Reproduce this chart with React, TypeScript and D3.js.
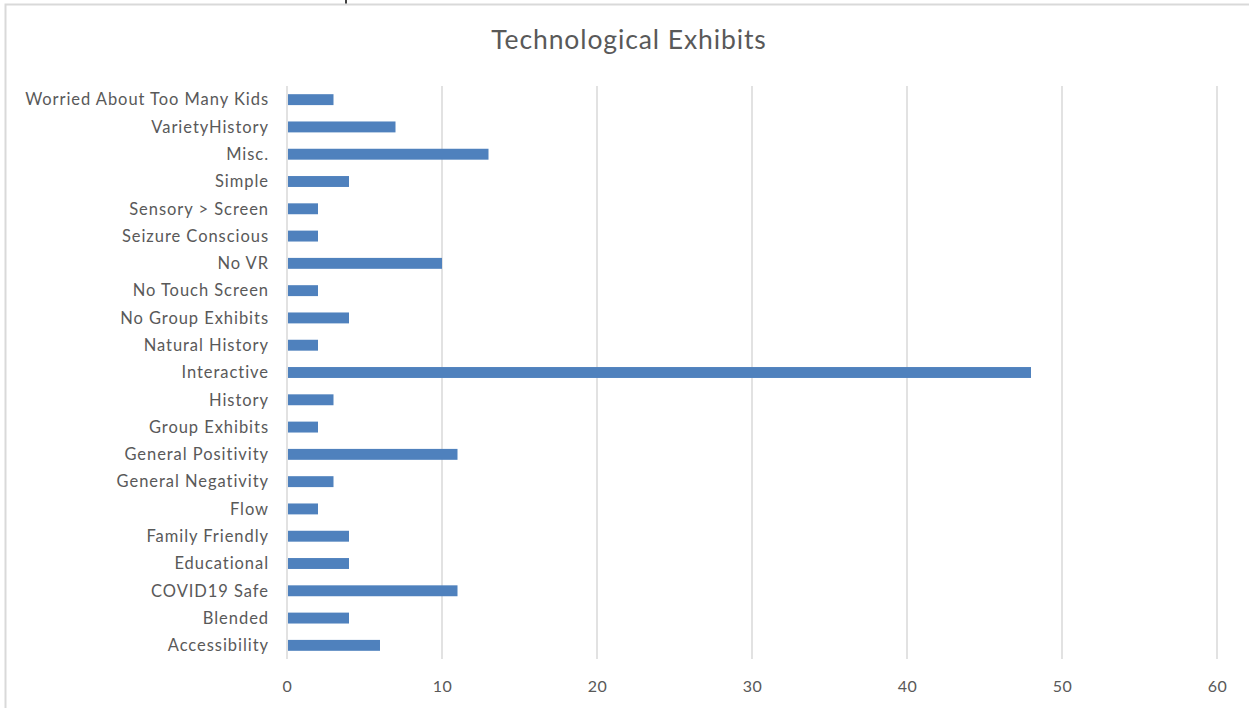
import React from "react";
import * as d3 from "d3";

const title = "Technological Exhibits";
const categories = [
  "Worried About Too Many Kids",
  "VarietyHistory",
  "Misc.",
  "Simple",
  "Sensory > Screen",
  "Seizure Conscious",
  "No VR",
  "No Touch Screen",
  "No Group Exhibits",
  "Natural History",
  "Interactive",
  "History",
  "Group Exhibits",
  "General Positivity",
  "General Negativity",
  "Flow",
  "Family Friendly",
  "Educational",
  "COVID19 Safe",
  "Blended",
  "Accessibility",
];
const values = [3, 7, 13, 4, 2, 2, 10, 2, 4, 2, 48, 3, 2, 11, 3, 2, 4, 4, 11, 4, 6];
const xTicks = [0, 10, 20, 30, 40, 50, 60];

const W = 1249;
const H = 708;
const FONT = "Lato, 'Open Sans', sans-serif";
const TEXT = "#595959";
const GRID = "#d9d9d9";
const BAR = "#4f81bd";

export default function App() {
  const x = d3.scaleLinear().domain([0, 60]).range([287, 1217]);
  const y = d3.scaleBand<string>().domain(categories).range([86, 659]).paddingInner(0.6).paddingOuter(0.3);
  const [y0, y1] = y.range();

  return (
    <svg
      width={W}
      height={H}
      style={{ position: "absolute", left: 0, top: 0, background: "#fff" }}
      fontFamily={FONT}
    >
      <line x1={346} x2={346} y1={0} y2={4} stroke="#111" strokeWidth={1.6} />
      <rect x={5.5} y={4.5} width={W + 20} height={H + 20} fill="none" stroke={GRID} strokeWidth={2} />
      <text x={629} y={49} textAnchor="middle" fontSize={26.5} letterSpacing={0.9} fill={TEXT}>{title}</text>
      {xTicks.map((t) => (
        <g key={t}>
          <line x1={x(t)} x2={x(t)} y1={y0} y2={y1} stroke={GRID} strokeWidth={1.5} />
          <text x={x(t) + 0.5} y={692} textAnchor="middle" fontSize={16} letterSpacing={0.5} fill={TEXT}>{t}</text>
        </g>
      ))}
      {categories.map((c, i) => (
        <g key={c}>
          <rect x={x(0) + 1} y={y(c)!} width={x(values[i]) - x(0) - 1} height={y.bandwidth()} fill={BAR} />
          <text
            x={269}
            y={(y(c) as number) + y.bandwidth() / 2}
            dy="0.35em"
            textAnchor="end"
            fontSize={16.5}
            letterSpacing={0.95}
            fill={TEXT}
          >
            {c}
          </text>
        </g>
      ))}
    </svg>
  );
}
